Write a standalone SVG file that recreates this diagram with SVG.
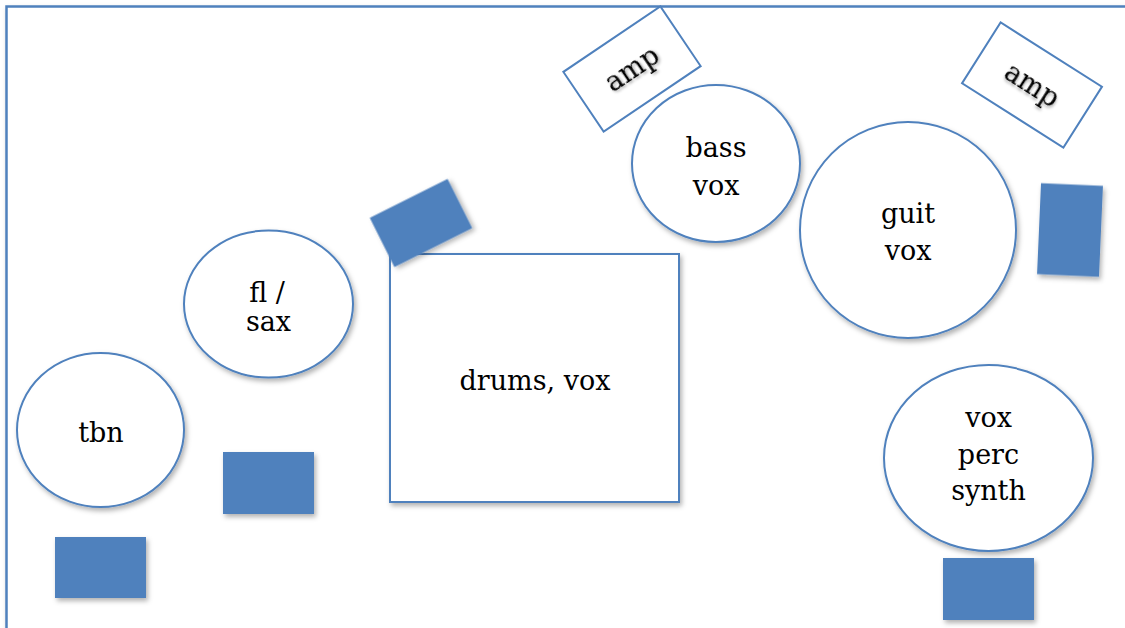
<svg xmlns="http://www.w3.org/2000/svg" width="1125" height="628" viewBox="0 0 1125 628">
  <defs>
    <filter id="sh" x="-20%" y="-20%" width="140%" height="140%">
      <feDropShadow dx="2" dy="3" stdDeviation="2.5" flood-color="#000" flood-opacity="0.3"/>
    </filter>
    <filter id="tsh" x="-20%" y="-20%" width="140%" height="140%">
      <feDropShadow dx="1" dy="2" stdDeviation="1.5" flood-color="#000" flood-opacity="0.35"/>
    </filter>
  </defs>
  <style>
    .outline { fill: #ffffff; stroke: #4F81BD; stroke-width: 2; }
    .mon { fill: #4F81BD; stroke: none; }
    .lbl { font-family: "DejaVu Serif", "Liberation Serif", serif; font-size: 27px; fill: #000; text-anchor: middle; }
  </style>
  <rect x="0" y="0" width="1125" height="628" fill="#ffffff"/>
  <g id="stage">
    <rect x="6.5" y="6.5" width="1200" height="700" fill="#ffffff" stroke="#4F81BD" stroke-width="2.5" filter="url(#sh)"/>
  </g>
  <g id="connectors"></g>

  <g id="amp-bass" transform="translate(632,69) rotate(-34)">
    <rect class="outline" x="-58.5" y="-36" width="117" height="72"/>
    <text class="lbl" x="0" y="9" filter="url(#tsh)">amp</text>
  </g>
  <g id="amp-guit" transform="translate(1032,85) rotate(32.4)">
    <rect class="outline" x="-60" y="-36" width="120" height="72"/>
    <text class="lbl" x="0" y="9" filter="url(#tsh)">amp</text>
  </g>

  <g id="drums">
    <rect class="outline" x="390" y="254" width="289" height="248" filter="url(#sh)"/>
    <text class="lbl" x="535" y="390">drums, vox</text>
  </g>
  <g id="mon-drums">
    <rect class="mon" x="-43.5" y="-27.5" width="87" height="55" transform="translate(421,223) rotate(-26.6)" filter="url(#sh)"/>
  </g>

  <g id="tbn">
    <ellipse class="outline" cx="100.5" cy="430" rx="83.5" ry="77" filter="url(#sh)"/>
    <text class="lbl" x="101" y="442">tbn</text>
  </g>
  <g id="flsax">
    <ellipse class="outline" cx="268.5" cy="304" rx="84.5" ry="73.5" filter="url(#sh)"/>
    <text class="lbl" x="267" y="302">fl /</text>
    <text class="lbl" x="268.5" y="331">sax</text>
  </g>
  <g id="bass">
    <ellipse class="outline" cx="716" cy="163.5" rx="84" ry="78.5" filter="url(#sh)"/>
    <text class="lbl" x="716" y="157">bass</text>
    <text class="lbl" x="716" y="195">vox</text>
  </g>
  <g id="guit">
    <ellipse class="outline" cx="908" cy="230" rx="108" ry="108" filter="url(#sh)"/>
    <text class="lbl" x="908" y="223">guit</text>
    <text class="lbl" x="908" y="260">vox</text>
  </g>
  <g id="voxperc">
    <ellipse class="outline" cx="988.5" cy="458" rx="104.5" ry="93" filter="url(#sh)"/>
    <text class="lbl" x="988.5" y="427">vox</text>
    <text class="lbl" x="988.5" y="464">perc</text>
    <text class="lbl" x="988.5" y="500">synth</text>
  </g>

  <g id="mon-guit">
    <rect class="mon" x="-31" y="-45.5" width="62" height="91" transform="translate(1070,230) rotate(2.5)" filter="url(#sh)"/>
  </g>
  <g id="mon-tbn">
    <rect class="mon" x="55" y="537" width="91" height="61" filter="url(#sh)"/>
  </g>
  <g id="mon-flsax">
    <rect class="mon" x="223" y="452" width="91" height="62" filter="url(#sh)"/>
  </g>
  <g id="mon-vox">
    <rect class="mon" x="943" y="558" width="91" height="62" filter="url(#sh)"/>
  </g>
</svg>
